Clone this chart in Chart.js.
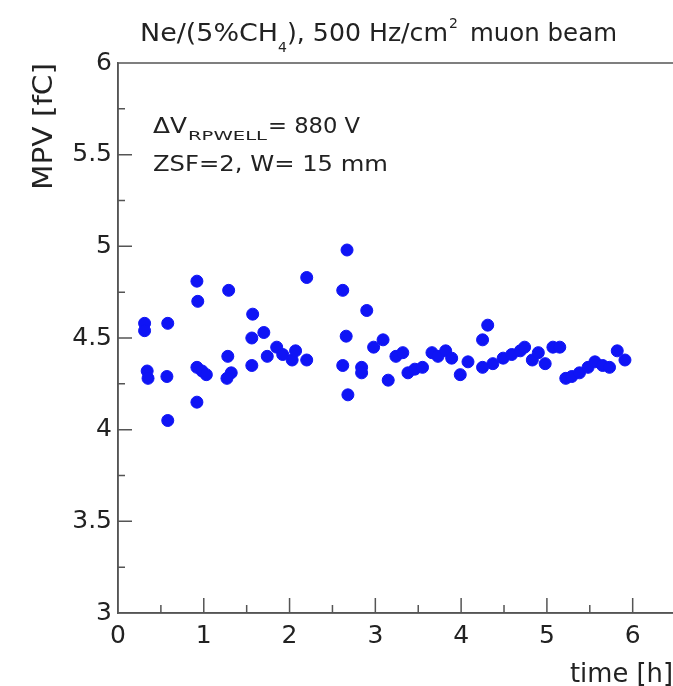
<!DOCTYPE html>
<html>
<head>
<meta charset="utf-8">
<script src="https://cdn.jsdelivr.net/npm/chart.js@4.4.0/dist/chart.umd.min.js"></script>
<style>
html,body{margin:0;padding:0;background:#fff;overflow:hidden}
#wrap{width:673px;height:686px;position:relative}
</style>
</head>
<body>
<div id="wrap"><canvas id="c" width="673" height="686"></canvas></div>
<script>
// ---- data ----
const timeH = [0.31,0.31,0.34,0.35,0.58,0.57,0.58,0.92,0.93,0.92,0.98,1.03,0.92,1.29,1.28,1.32,1.27,1.57,1.56,1.70,1.56,1.74,1.85,1.92,2.03,2.07,2.20,2.20,2.67,2.62,2.66,2.62,2.68,2.90,2.84,2.84,2.98,3.09,3.15,3.24,3.32,3.38,3.46,3.55,3.66,3.73,3.82,3.89,3.99,4.08,4.25,4.31,4.25,4.37,4.49,4.59,4.69,4.74,4.83,4.90,4.98,5.07,5.15,5.22,5.29,5.38,5.48,5.56,5.65,5.73,5.82,5.91];
const mpv = [4.58,4.54,4.32,4.28,4.58,4.29,4.05,4.81,4.70,4.34,4.32,4.30,4.15,4.76,4.40,4.31,4.28,4.63,4.50,4.53,4.35,4.40,4.45,4.41,4.38,4.43,4.83,4.38,4.98,4.76,4.51,4.35,4.19,4.65,4.34,4.31,4.45,4.49,4.27,4.40,4.42,4.31,4.33,4.34,4.42,4.40,4.43,4.39,4.30,4.37,4.49,4.57,4.34,4.36,4.39,4.41,4.43,4.45,4.38,4.42,4.36,4.45,4.45,4.28,4.29,4.31,4.34,4.37,4.35,4.34,4.43,4.38];
const xTickValues = [0,1,2,3,4,5,6];
const xMinorValues = [0.5,1.5,2.5,3.5,4.5,5.5];
const yTickValues = [3,3.5,4,4.5,5,5.5,6];
const yMinorValues = [3.25,3.75,4.25,4.75,5.25,5.75];
const titleMain1 = "Ne/(5%CH";
const titleSub = "4";
const titleMain2 = "), 500 Hz/cm";
const titleSup = "2";
const titleMain3 = "muon beam";
const yTitle = "MPV [fC]";
const xTitle = "time [h]";
const noteA = "\u0394V";
const noteSub = "RPWELL";
const noteB = "= 880 V";
const noteLine2 = "ZSF=2, W= 15 mm";

const AXIS = '#555555';
const TEXT = '#222222';
const FONT = '"DejaVu Sans", sans-serif';
const MARK = '#0f14f5';

function fitText(ctx, str, x, y, size, width) {
  ctx.font = size + 'px ' + FONT;
  const w = ctx.measureText(str).width;
  const s = width ? width / w : 1;
  ctx.save();
  ctx.translate(x, y);
  ctx.scale(s, 1);
  ctx.textAlign = 'left';
  ctx.textBaseline = 'alphabetic';
  ctx.fillText(str, 0, 0);
  ctx.restore();
}

const framePlugin = {
  id: 'rootFrame',
  beforeDatasetsDraw(chart) {
    const {ctx, chartArea: a, scales: {x, y}} = chart;
    ctx.save();
    ctx.strokeStyle = AXIS;
    ctx.lineWidth = 1.5;
    ctx.beginPath();
    ctx.moveTo(a.left, a.top); ctx.lineTo(a.right, a.top);
    ctx.moveTo(a.left, a.top); ctx.lineTo(a.left, a.bottom);
    ctx.moveTo(a.left, a.bottom); ctx.lineTo(a.right, a.bottom);
    xTickValues.forEach(v => { const p = x.getPixelForValue(v); ctx.moveTo(p, a.bottom); ctx.lineTo(p, a.bottom - 15); });
    xMinorValues.forEach(v => { const p = x.getPixelForValue(v); ctx.moveTo(p, a.bottom); ctx.lineTo(p, a.bottom - 8); });
    yTickValues.forEach(v => { const p = y.getPixelForValue(v); ctx.moveTo(a.left, p); ctx.lineTo(a.left + 14, p); });
    yMinorValues.forEach(v => { const p = y.getPixelForValue(v); ctx.moveTo(a.left, p); ctx.lineTo(a.left + 7, p); });
    ctx.stroke();
    ctx.restore();
  },
  afterDraw(chart) {
    const ctx = chart.ctx;
    ctx.save();
    ctx.fillStyle = TEXT;
    // title
    fitText(ctx, titleMain1, 140, 41, 25, 138);
    fitText(ctx, titleSub, 278, 52, 14, 0);
    fitText(ctx, titleMain2, 287, 41, 25, 161);
    fitText(ctx, titleSup, 449, 28, 14, 0);
    fitText(ctx, titleMain3, 470, 41, 25, 147);
    // annotation
    fitText(ctx, noteA, 153, 133, 22, 34);
    fitText(ctx, noteSub, 188, 140, 12, 79);
    fitText(ctx, noteB, 268, 133, 22, 92);
    fitText(ctx, noteLine2, 153, 171, 22, 235);
    // x title
    fitText(ctx, xTitle, 570, 682, 27, 103);
    // y title (rotated)
    ctx.save();
    ctx.translate(52, 190);
    ctx.rotate(-Math.PI / 2);
    fitText(ctx, yTitle, 0, 0, 26, 127);
    ctx.restore();
    ctx.restore();
  }
};

new Chart(document.getElementById('c'), {
  type: 'scatter',
  data: {
    datasets: [{
      data: timeH.map((t, i) => ({x: t, y: mpv[i]})),
      backgroundColor: MARK,
      borderColor: MARK,
      borderWidth: 1,
      pointRadius: 6,
      pointHoverRadius: 6
    }]
  },
  options: {
    responsive: false,
    animation: false,
    events: [],
    layout: {autoPadding: false, padding: {top: 63, left: 0, right: 0, bottom: 0}},
    plugins: {legend: {display: false}, tooltip: {enabled: false}},
    scales: {
      x: {
        type: 'linear', min: 0, max: 6.47,
        afterBuildTicks: s => { s.ticks = xTickValues.map(v => ({value: v})); },
        afterFit: s => { s.height = 73; s.paddingLeft = 0; s.paddingRight = 0; },
        grid: {display: false, drawTicks: false},
        border: {display: true, color: AXIS, width: 1.5},
        ticks: {font: {family: FONT, size: 25}, color: TEXT, padding: 8, maxRotation: 0, autoSkip: false,
                callback: v => String(v)}
      },
      y: {
        type: 'linear', min: 3, max: 6,
        afterBuildTicks: s => { s.ticks = yTickValues.map(v => ({value: v})); },
        afterFit: s => { s.width = 118; s.paddingTop = 0; s.paddingBottom = 0; },
        grid: {display: false, drawTicks: false},
        border: {display: true, color: AXIS, width: 1.5},
        ticks: {font: {family: FONT, size: 25}, color: TEXT, padding: 6, autoSkip: false,
                callback: v => String(v)}
      }
    }
  },
  plugins: [framePlugin]
});
</script>
</body>
</html>
